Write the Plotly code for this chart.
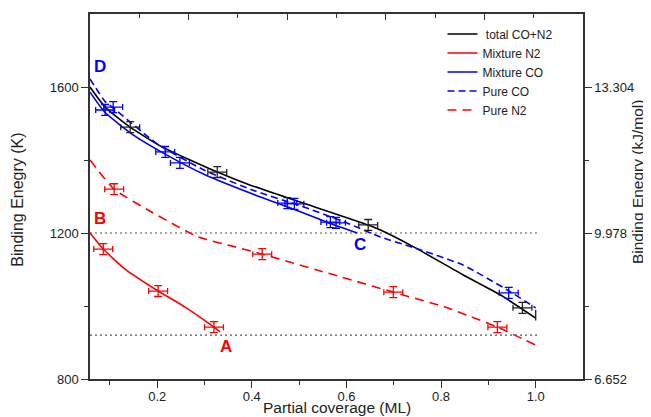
import plotly.graph_objects as go

# ---- data ----
total_x = [0.058, 0.09, 0.143, 0.21, 0.327, 0.397, 0.502, 0.646, 0.672, 0.742, 0.847, 0.926, 1.0]
total_y = [1600, 1545, 1490, 1436, 1367, 1331, 1285, 1222, 1208, 1162, 1085, 1030, 967]

mixco_x = [0.058, 0.09, 0.15, 0.217, 0.30, 0.407, 0.475, 0.566, 0.623]
mixco_y = [1586, 1530, 1468, 1416, 1360, 1304, 1272, 1226, 1200]

pureco_x = [0.058, 0.09, 0.107, 0.2, 0.30, 0.407, 0.5, 0.6, 0.672, 0.742, 0.847, 0.94, 1.0]
pureco_y = [1622, 1560, 1543, 1444, 1372, 1315, 1276, 1228, 1189, 1160, 1112, 1044, 995]

mixn2_x = [0.058, 0.086, 0.132, 0.202, 0.259, 0.320, 0.333]
mixn2_y = [1200, 1156, 1101, 1041, 997, 942, 929]

puren2_x = [0.058, 0.109, 0.189, 0.287, 0.365, 0.422, 0.55, 0.699, 0.813, 0.919, 1.0]
puren2_y = [1400, 1320, 1257, 1189, 1162, 1142, 1094, 1038, 995, 942, 893]

# error-bar points
blk_px = [0.143, 0.327, 0.646, 0.972]
blk_py = [1490, 1367, 1222, 995]
blu_px = [0.090, 0.107, 0.217, 0.248, 0.475, 0.49, 0.566, 0.578, 0.943]
blu_py = [1537, 1545, 1422, 1392, 1282, 1280, 1230, 1228, 1036]
red_px = [0.086, 0.202, 0.320, 0.109, 0.422, 0.699, 0.919]
red_py = [1156, 1041, 942, 1320, 1142, 1038, 942]
err_x = 0.02
err_y = 15

ref_levels = [1200, 920]
ref_x = [0.058, 1.004]

x_ticks = [0.2, 0.4, 0.6, 0.8, 1.0]
x_ticklabels = ["0.2", "0.4", "0.6", "0.8", "1.0"]
y_ticks = [800, 1200, 1600]
y_ticklabels = ["800", "1200", "1600"]
y2_ticklabels = ["6.652", "9.978", "13.304"]

labels = ["D", "B", "C", "A"]
label_x = [0.079, 0.079, 0.629, 0.346]
label_y = [1655, 1241, 1168, 890]
label_col = ["#0000ff", "#ff0000", "#0000ff", "#ff0000"]

BLUE = "#0000ff"
RED = "#ff0000"
BLACK = "#000000"
FONT = "Liberation Sans, Arial, sans-serif"
SM = 0.5

fig = go.Figure()

# reference dotted lines
for lv in ref_levels:
    fig.add_trace(go.Scatter(x=ref_x, y=[lv, lv], mode="lines", showlegend=False,
                             line=dict(color="#555555", width=1.2, dash="2px,3px"),
                             hoverinfo="skip"))

fig.add_trace(go.Scatter(x=total_x, y=total_y, mode="lines", name=" total CO+N2",
                         line=dict(color=BLACK, width=1.6, shape="spline", smoothing=SM)))
fig.add_trace(go.Scatter(x=mixn2_x, y=mixn2_y, mode="lines", name="Mixture N2",
                         line=dict(color=RED, width=1.6, shape="spline", smoothing=SM)))
fig.add_trace(go.Scatter(x=mixco_x, y=mixco_y, mode="lines", name="Mixture CO",
                         line=dict(color=BLUE, width=1.6, shape="spline", smoothing=SM)))
fig.add_trace(go.Scatter(x=pureco_x, y=pureco_y, mode="lines", name="Pure CO",
                         line=dict(color=BLUE, width=1.6, dash="7px,4px", shape="spline", smoothing=SM)))
fig.add_trace(go.Scatter(x=puren2_x, y=puren2_y, mode="lines", name="Pure N2",
                         line=dict(color=RED, width=1.6, dash="9px,6px", shape="spline", smoothing=SM)))

# error bar points
for px, py, col in [(blk_px, blk_py, "#222222"), (blu_px, blu_py, BLUE), (red_px, red_py, RED)]:
    fig.add_trace(go.Scatter(
        x=px, y=py, mode="markers", showlegend=False,
        marker=dict(size=1, color=col),
        error_x=dict(type="constant", value=err_x, color=col, thickness=1.3, width=3),
        error_y=dict(type="constant", value=err_y, color=col, thickness=1.3, width=4),
    ))

# last black vertical bar at 1.0
fig.add_trace(go.Scatter(
    x=[1.0], y=[975], mode="markers", showlegend=False, marker=dict(size=1, color="#222222"),
    error_y=dict(type="constant", value=15, color="#222222", thickness=1.3, width=0)))

# dummy trace on secondary axes
fig.add_trace(go.Scatter(x=[None], y=[None], xaxis="x2", yaxis="y2", showlegend=False))

for t, xx, yy, c in zip(labels, label_x, label_y, label_col):
    fig.add_annotation(x=xx, y=yy, text="<b>%s</b>" % t, showarrow=False,
                       font=dict(family=FONT, size=17, color=c))

axis_common = dict(showline=True, linecolor="#333333", linewidth=1.5, showgrid=False,
                   zeroline=False, tickcolor="#333333", tickwidth=1.3,
                   tickfont=dict(family=FONT, size=13, color="#222222"))

fig.update_layout(
    width=643, height=409,
    margin=dict(l=82, r=68, t=6, b=38),
    paper_bgcolor="white", plot_bgcolor="white",
    font=dict(family=FONT, color="#222222"),
    xaxis=dict(range=[0.058, 1.1], tickvals=x_ticks, ticktext=x_ticklabels,
               ticks="outside", ticklen=7, ticklabelstandoff=-2,
               minor=dict(tickvals=[0.1, 0.3, 0.5, 0.7, 0.9], ticklen=4, ticks="outside",
                          tickcolor="#333333", tickwidth=1.3),
               **axis_common),
    xaxis2=dict(range=[0, 1], overlaying="x", side="top", anchor="y2",
                tickvals=[0.2, 0.4, 0.6, 0.8], showticklabels=False, ticks="inside", ticklen=6,
                minor=dict(tickvals=[0.1, 0.3, 0.5, 0.7, 0.9], ticklen=4, ticks="inside",
                           tickcolor="#333333", tickwidth=1.3),
                **axis_common),
    yaxis=dict(range=[800, 1800], tickvals=y_ticks, ticktext=y_ticklabels,
               ticks="outside", ticklen=7,
               minor=dict(tickvals=[1000, 1400], ticklen=4, ticks="outside",
                          tickcolor="#333333", tickwidth=1.3),
               **axis_common),
    yaxis2=dict(range=[800, 1800], overlaying="y", side="right", anchor="x2",
                tickvals=y_ticks, ticktext=y2_ticklabels,
                ticks="outside", ticklen=7,
                minor=dict(tickvals=[1000, 1400], ticklen=4, ticks="outside",
                           tickcolor="#333333", tickwidth=1.3),
                **axis_common),
    legend=dict(x=0.715, y=0.985, xanchor="left", yanchor="top",
                bgcolor="rgba(0,0,0,0)", font=dict(family=FONT, size=12, color="#222222"),
                itemwidth=30, tracegroupgap=0),
    showlegend=True,
)

fig.add_annotation(text="Partial coverage (ML)", xref="paper", yref="paper",
                   x=0.5, y=-0.079, yanchor="middle", showarrow=False,
                   font=dict(family=FONT, size=15.5, color="#222222"))
fig.add_annotation(text="Binding Enegry (K)", xref="paper", yref="paper",
                   x=-0.147, y=0.49, xanchor="center", yanchor="middle", textangle=-90,
                   showarrow=False, font=dict(family=FONT, size=16, color="#222222"))
fig.add_annotation(text="Binding Enegry (kJ/mol)", xref="paper", yref="paper",
                   x=1.112, y=0.54, xanchor="center", yanchor="middle", textangle=-90,
                   showarrow=False, font=dict(family=FONT, size=15.5, color="#222222"))

fig.write_html("out.html")
